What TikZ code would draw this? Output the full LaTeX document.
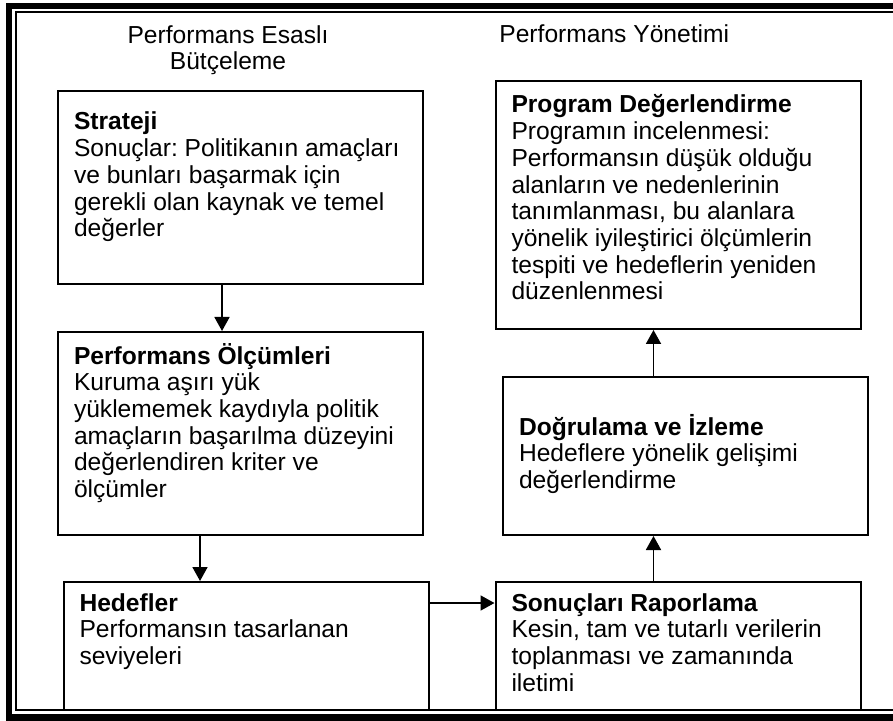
\documentclass[tikz,border=0pt]{standalone}
\usepackage{fontspec}
\setmainfont{Liberation Sans}
\usetikzlibrary{arrows.meta,positioning}

\newcommand{\boxtext}[3][0pt]{\parbox[c][#2][t]{166.5pt}{\raggedright\frenchspacing\vspace*{#1}\rule{0pt}{11.5pt}#3}}

\begin{document}
\begin{tikzpicture}[
  x=0.5pt, y=-0.5pt,
  box/.style={rectangle, draw, line width=1pt, inner xsep=8pt, inner ysep=4.5pt, font=\fontsize{12.3}{13.35}\selectfont},
  hdr/.style={align=center, inner sep=0pt, font=\fontsize{12.3}{13.35}\selectfont},
  arrow/.style={-{Triangle[length=7pt, width=7.5pt]}, line width=0.9pt}
]
  \useasboundingbox (0,0) rectangle (893,721);
  \clip (0,0) rectangle (893,721);
  \draw[line width=3.25pt] (893,6) -- (9,6) -- (9,717.5) -- (893,717.5);
  \draw[line width=1pt] (893,12) -- (16,12) -- (16,709.5) -- (893,709.5);

  \node[hdr, anchor=north] (pebhead) at (228,25) {Performans Esaslı\\Bütçeleme};
  \node[hdr, anchor=base west] (pyhead) at (499,43) {Performans Yönetimi};

  \node[box, anchor=north west] (strateji) at (57,90) {\boxtext[3.5pt]{87.5pt}{\textbf{Strateji}\\Sonuçlar: Politikanın amaçları\\ve bunları başarmak için\\gerekli olan kaynak ve temel\\değerler}};
  \node[box, below=23pt of strateji] (olcum) {\boxtext{92.5pt}{\textbf{Performans Ölçümleri}\\Kuruma aşırı yük\\yüklememek kaydıyla politik\\amaçların başarılma düzeyini\\değerlendiren kriter ve\\ölçümler}};
  \node[box, below=22.5pt of olcum, xshift=2.75pt] (hedefler) {\boxtext[-1.5pt]{55pt}{\textbf{Hedefler}\\Performansın tasarlanan\\seviyeleri}};
  \node[box, right=32.5pt of hedefler] (sonuclar) {\boxtext[-1.5pt]{55pt}{\textbf{Sonuçları Raporlama}\\Kesin, tam ve tutarlı verilerin\\toplanması ve zamanında\\iletimi}};
  \node[box, above=22.5pt of sonuclar, xshift=3.75pt] (dogrulama) {\boxtext[13pt]{70pt}{\textbf{Doğrulama ve İzleme}\\Hedeflere yönelik gelişimi\\değerlendirme}};
  \node[box, above=23pt of dogrulama, xshift=-3.75pt] (program) {\boxtext{115pt}{\textbf{Program Değerlendirme}\\Programın incelenmesi:\\Performansın düşük olduğu\\alanların ve nedenlerinin\\tanımlanması, bu alanlara\\yönelik iyileştirici ölçümlerin\\tespiti ve hedeflerin yeniden\\düzenlenmesi}};

  \draw[arrow] ([xshift=-9.25pt]strateji.south) -- ([xshift=-9.25pt]strateji.south |- olcum.north);
  \draw[arrow] ([xshift=-20.25pt]olcum.south) -- ([xshift=-20.25pt]olcum.south |- hedefler.north);
  \draw[arrow] ([yshift=21.5pt]hedefler.east) -- ([yshift=21.5pt]hedefler.east -| sonuclar.west);
  \draw[arrow] ([xshift=-12.25pt]sonuclar.north) -- ([xshift=-12.25pt]sonuclar.north |- dogrulama.south);
  \draw[arrow] ([xshift=-12.25pt]program.south |- dogrulama.north) -- ([xshift=-12.25pt]program.south);
\end{tikzpicture}
\end{document}
